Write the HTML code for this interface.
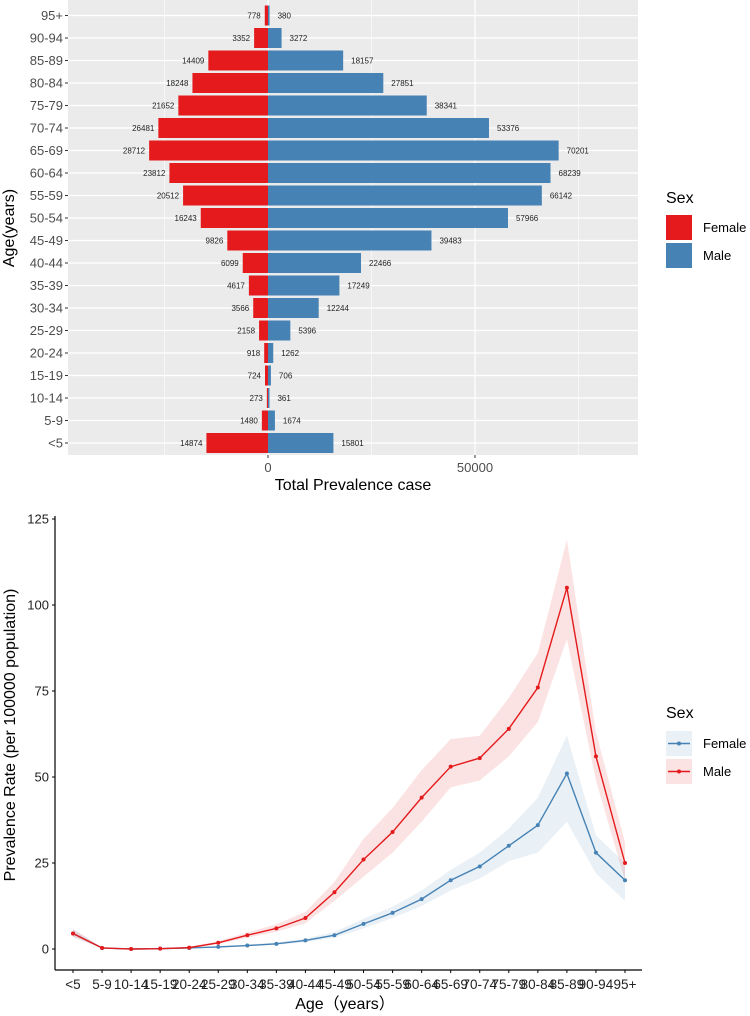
<!DOCTYPE html>
<html><head><meta charset="utf-8">
<style>
html,body{margin:0;padding:0;background:#fff;}
svg{display:block;font-family:"Liberation Sans","Noto Sans CJK SC",sans-serif;}
</style></head>
<body>
<svg id="chart" width="750" height="1016" viewBox="0 0 750 1016">
  <g id="topg"></g>
  <g id="botg"></g>
</svg>
<script>
const ages = ["<5","5-9","10-14","15-19","20-24","25-29","30-34","35-39","40-44","45-49","50-54","55-59","60-64","65-69","70-74","75-79","80-84","85-89","90-94","95+"];
const femaleCases = [14874,1480,273,724,918,2158,3566,4617,6099,9826,16243,20512,23812,28712,26481,21652,18248,14409,3352,778];
const maleCases = [15801,1674,361,706,1262,5396,12244,17249,22466,39483,57966,66142,68239,70201,53376,38341,27851,18157,3272,380];
const xTicks = [0,50000];
const xMinor = [-25000,25000,75000];
const rateAges = ["<5","5-9","10-14","15-19","20-24","25-29","30-34","35-39","40-44","45-49","50-54","55-59","60-64","65-69","70-74","75-79","80-84","85-89","90-94","95+"];
const maleRate = [4.5,0.3,0,0.1,0.4,1.8,4,6,9,16.5,26,34,44,53,55.5,64,76,105,56,25];
const maleLow = [3.5,0.2,0,0.05,0.3,1.4,3.3,5,7.5,14,21,28,37,47,49,56,66,90,49,20];
const maleHigh = [5.8,0.4,0.1,0.2,0.6,2.3,4.8,7.2,10.8,19.5,32,41,52,61,62,73,86,119,63,31];
const femaleRate = [4.5,0.3,0,0.1,0.3,0.6,1,1.5,2.5,4,7.3,10.5,14.5,20,24,30,36,51,28,20];
const femaleLow = [3.5,0.2,0,0.05,0.2,0.4,0.8,1.2,2,3.3,6,9,12.5,17,20.5,25.5,28,37,22,14];
const femaleHigh = [5.8,0.4,0.1,0.2,0.4,0.8,1.3,1.9,3.1,4.9,8.8,12.3,17,23,28,35,44,62,33,25];
const yTicks = [0,25,50,75,100,125];

const NS="http://www.w3.org/2000/svg";
function mk(parent,tag,attrs,text){const e=document.createElementNS(NS,tag);for(const k in attrs)e.setAttribute(k,attrs[k]);if(text!==undefined)e.textContent=text;parent.appendChild(e);return e;}

// ---- Top pyramid ----
const topG=document.getElementById('topg');
const pL=68,pR=638,pT=0,pB=455,x0=268,kk=207/50000;
const X=v=>x0+v*kk;
const rowY=i=>443-i*22.5;
const panel=mk(topG,'rect',{x:pL,y:pT,width:pR-pL,height:pB-pT,fill:'#ebebeb'});


xMinor.forEach(v=>{const l=mk(topG,'line',{x1:X(v),x2:X(v),y1:pT,y2:pB,stroke:'#fff','stroke-width':0.6});

});
xTicks.forEach(v=>{const l=mk(topG,'line',{x1:X(v),x2:X(v),y1:pT,y2:pB,stroke:'#fff','stroke-width':1.2});

});
ages.forEach((a,i)=>{const l=mk(topG,'line',{x1:pL,x2:pR,y1:rowY(i),y2:rowY(i),stroke:'#fff','stroke-width':1.2});

});
const bh=20;
ages.forEach((a,i)=>{
  const y=rowY(i);
  const f=mk(topG,'rect',{x:X(-femaleCases[i]),y:y-bh/2,width:X(0)-X(-femaleCases[i]),height:bh,fill:'#e41a1c'});
  
  
  const m=mk(topG,'rect',{x:X(0),y:y-bh/2,width:X(maleCases[i])-X(0),height:bh,fill:'#4682b4'});
  
  
  const ft=mk(topG,'text',{x:X(-femaleCases[i])-4,y:y+3,'font-size':8,'text-anchor':'end',fill:'#222'},femaleCases[i]);
  
  
  const mt=mk(topG,'text',{x:X(maleCases[i])+8,y:y+3,'font-size':8,'text-anchor':'start',fill:'#222'},maleCases[i]);
  
  
  const tk=mk(topG,'line',{x1:pL-3,x2:pL,y1:y,y2:y,stroke:'#333','stroke-width':1});
  
  
  const tl=mk(topG,'text',{x:pL-5,y:y+4.5,'font-size':13,'text-anchor':'end',fill:'#4d4d4d'},a);
  
  
});
xTicks.forEach(v=>{
  const tk=mk(topG,'line',{x1:X(v),x2:X(v),y1:pB,y2:pB+3,stroke:'#333'});
  
  
  const tx=mk(topG,'text',{x:X(v),y:pB+17,'font-size':13,'text-anchor':'middle',fill:'#4d4d4d'},v);
  
  
});
let tt0=mk(topG,'text',{x:353,y:pB+35,'font-size':16,'text-anchor':'middle',fill:'#000'},'Total Prevalence case');


tt0=mk(topG,'text',{x:0,y:0,'font-size':16,'text-anchor':'middle',fill:'#000',transform:'translate(14,228) rotate(-90)'},'Age(years)');


tt0=mk(topG,'text',{x:666,y:203,'font-size':16,fill:'#000'},'Sex');


[['Female','#e41a1c',215],['Male','#4682b4',243]].forEach(([n,c,y])=>{
  const r=mk(topG,'rect',{x:666,y:y,width:26,height:25,fill:c});
  
  
  const tl=mk(topG,'text',{x:703,y:y+17,'font-size':13,fill:'#000'},n);
  
  
});

// ---- Bottom line chart ----
const botG=document.getElementById('botg');
const aL=55,aR=642,aB=970,yT=519,y0=949;
const Y=v=>y0-(v/125)*(y0-yT);
const XB=i=>73+i*(625-73)/(rateAges.length-1);
function band(lo,hi,fill,name){
  let d='M'+lo.map((v,i)=>XB(i)+','+Y(v)).join('L');
  for(let i=hi.length-1;i>=0;i--) d+='L'+XB(i)+','+Y(hi[i]);
  const p=mk(botG,'path',{d:d+'Z',fill:fill});
  
  
}
band(femaleLow,femaleHigh,'rgba(70,130,180,0.12)','band-female');
band(maleLow,maleHigh,'rgba(228,26,28,0.12)','band-male');
function drawLine(vals,col,name){
  const p=mk(botG,'polyline',{points:vals.map((v,i)=>XB(i)+','+Y(v)).join(' '),fill:'none',stroke:col,'stroke-width':1.4});
  
  
  vals.forEach((v,i)=>{const c=mk(botG,'circle',{cx:XB(i),cy:Y(v),r:2,fill:col});
  
  });
}
drawLine(femaleRate,'#4682b4','female');
drawLine(maleRate,'#e41a1c','male');
let ax=mk(botG,'line',{x1:aL,x2:aL,y1:yT-3,y2:aB,stroke:'#000','stroke-width':1.2});


ax=mk(botG,'line',{x1:aL,x2:aR,y1:aB,y2:aB,stroke:'#000','stroke-width':1.2});


yTicks.forEach(v=>{
  const tk=mk(botG,'line',{x1:aL-3,x2:aL,y1:Y(v),y2:Y(v),stroke:'#000'});
  
  
  const tl=mk(botG,'text',{x:aL-6,y:Y(v)+4.5,'font-size':13,'text-anchor':'end',fill:'#222'},v);
  
  
});
rateAges.forEach((a,i)=>{
  const tk=mk(botG,'line',{x1:XB(i),x2:XB(i),y1:aB,y2:aB+3,stroke:'#000'});
  
  
  const tl=mk(botG,'text',{x:XB(i),y:aB+19,'font-size':13.5,'text-anchor':'middle',fill:'#222'},a);
  
  
});
let tb=mk(botG,'text',{x:345,y:1009,'font-size':16,'text-anchor':'middle',fill:'#000'},'Age（years）');


tb=mk(botG,'text',{x:0,y:0,'font-size':16,'text-anchor':'middle',fill:'#000',transform:'translate(15,735) rotate(-90)'},'Prevalence Rate (per 100000 population)');


tb=mk(botG,'text',{x:666,y:718,'font-size':16,fill:'#000'},'Sex');


[['Female','#4682b4','rgba(70,130,180,0.12)',731],['Male','#e41a1c','rgba(228,26,28,0.12)',759]].forEach(([n,c,f,y])=>{
  const r=mk(botG,'rect',{x:666,y:y,width:26,height:25,fill:f});
  
  
  mk(botG,'line',{x1:668,x2:690,y1:y+12.5,y2:y+12.5,stroke:c,'stroke-width':1.4});
  mk(botG,'circle',{cx:679,cy:y+12.5,r:2,fill:c});
  const tl=mk(botG,'text',{x:703,y:y+17,'font-size':13,fill:'#000'},n);
  
  
});
</script>
</body></html>
